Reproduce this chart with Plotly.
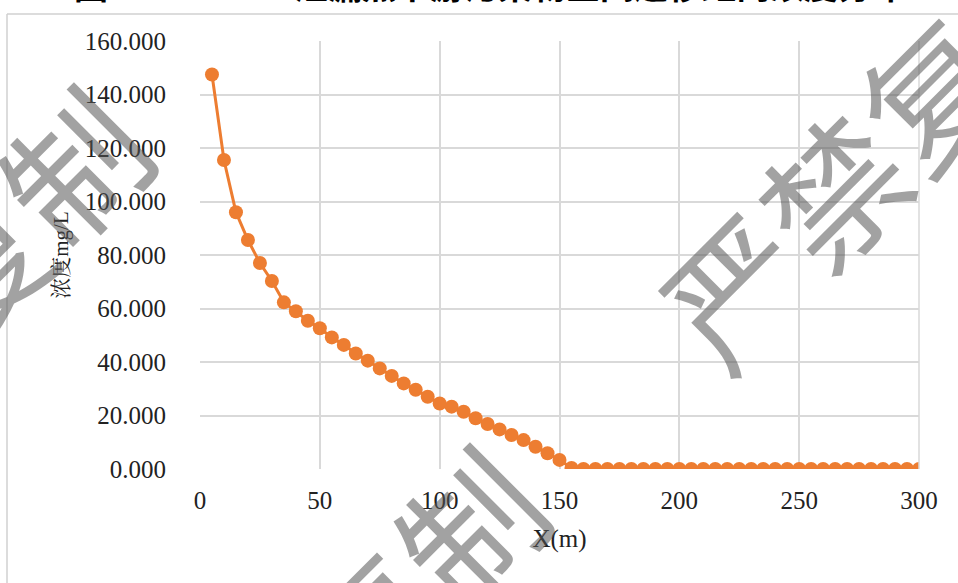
import plotly.graph_objects as go

# ---- data ----
distance_m = [5, 10, 15, 20, 25, 30, 35, 40, 45, 50, 55, 60, 65, 70, 75, 80, 85, 90, 95, 100,
              105, 110, 115, 120, 125, 130, 135, 140, 145, 150, 155, 160, 165, 170, 175, 180,
              185, 190, 195, 200, 205, 210, 215, 220, 225, 230, 235, 240, 245, 250, 255, 260,
              265, 270, 275, 280, 285, 290, 295, 300]
concentration = [147.5, 115.5, 96.0, 85.6, 77.0, 70.3, 62.3, 59.0, 55.4, 52.6, 49.2, 46.4, 43.2,
                 40.5, 37.6, 34.8, 32.0, 29.6, 27.0, 24.5, 23.3, 21.4, 19.0, 16.8, 14.8, 12.7,
                 10.8, 8.3, 5.9, 3.4, 0.4, 0, 0, 0, 0, 0, 0, 0, 0, 0, 0, 0, 0, 0, 0, 0, 0, 0, 0,
                 0, 0, 0, 0, 0, 0, 0, 0, 0, 0, 0]
x_ticks = [0, 50, 100, 150, 200, 250, 300]
y_ticks = [0, 20, 40, 60, 80, 100, 120, 140, 160]
title_text = "图 3.5-6  COD 泄漏点下游污染物空间迁移距离浓度分布"
x_title = "X(m)"
y_title = "浓度mg/L"
watermark = "严禁复制"

W, H = 958, 583
L, R, T, B = 200, 39, 41, 114
PW, PH = W - L - R, H - T - B


def px(xp):
    return (xp - L) / PW


def py(yp):
    return (H - B - yp) / PH


serif = "Liberation Serif, Times New Roman, serif"

fig = go.Figure()
fig.add_trace(go.Scatter(
    x=distance_m, y=concentration, mode="lines+markers",
    line=dict(color="#ED7D31", width=3),
    marker=dict(color="#ED7D31", size=14),
    showlegend=False,
))

annotations = [
    dict(text=f"<b>{title_text}</b>", xref="paper", yref="paper", x=px(490), y=py(-15),
         xanchor="center", yanchor="middle", showarrow=False,
         font=dict(size=34, color="black", family="Noto Sans CJK SC")),
]
for cx, cy in [(880, 138), (-78, 312), (318, 672)]:
    annotations.append(dict(
        text=watermark, xref="paper", yref="paper", x=px(cx), y=py(cy),
        xanchor="center", yanchor="middle", showarrow=False, textangle=-45,
        font=dict(size=140, color="rgba(85,85,85,0.55)", family="Noto Sans CJK SC")))

fig.update_layout(
    width=W, height=H,
    margin=dict(l=L, r=R, t=T, b=B),
    paper_bgcolor="white", plot_bgcolor="white",
    xaxis=dict(range=[0, 300], tickvals=x_ticks, showgrid=True, gridcolor="#d9d9d9", gridwidth=1.5,
               zeroline=False, showline=False, ticks="outside", ticklen=9,
               tickcolor="rgba(0,0,0,0)",
               tickfont=dict(family=serif, size=25, color="#222"),
               title=dict(text=x_title, font=dict(family=serif, size=25, color="#222"), standoff=16)),
    yaxis=dict(range=[0, 160], tickvals=y_ticks, tickformat=".3f", showgrid=True, gridcolor="#d9d9d9",
               gridwidth=1.5, zeroline=False, showline=False, ticks="outside", ticklen=28,
               tickcolor="rgba(0,0,0,0)",
               tickfont=dict(family=serif, size=25, color="#222"),
               title=dict(text=y_title,
                          font=dict(family="Liberation Serif, Noto Serif CJK SC, Noto Sans CJK SC",
                                    size=21, color="#222"),
                          standoff=10)),
    annotations=annotations,
    shapes=[
        dict(type="line", xref="paper", yref="paper", x0=px(7), x1=px(958), y0=py(14), y1=py(14),
             line=dict(color="#d0d0d0", width=1.5)),
        dict(type="line", xref="paper", yref="paper", x0=px(7), x1=px(7), y0=py(14), y1=py(583),
             line=dict(color="#d0d0d0", width=1.5)),
        dict(type="line", xref="paper", yref="paper", x0=1, x1=1, y0=0, y1=1,
             line=dict(color="#d9d9d9", width=1.5)),
    ],
)

fig.write_html("out.html", config={"displayModeBar": False},
               post_script="document.body.style.margin='0';")
